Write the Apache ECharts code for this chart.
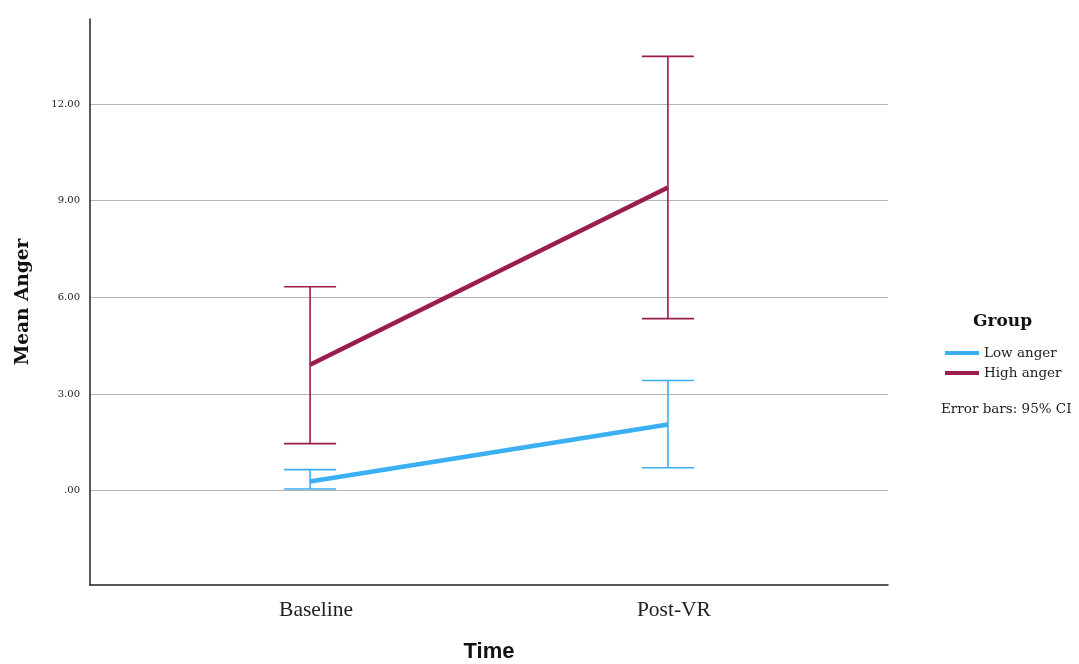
<!DOCTYPE html>
<html>
<head>
<meta charset="utf-8">
<title>Mean Anger</title>
<script src="https://cdn.jsdelivr.net/npm/echarts@6/dist/echarts.min.js"></script>
<style>
  html, body { margin: 0; padding: 0; background: #fff; }
  #chart { width: 1079px; height: 664px; }
</style>
</head>
<body>
<div id="chart"></div>
<script>
// data
var times = ['Baseline', 'Post-VR'];
var groups = ['Low anger', 'High anger'];
var lowMean = [0.28, 2.05];
var lowLower = [0.05, 0.71];
var lowUpper = [0.65, 3.42];
var highMean = [3.91, 9.41];
var highLower = [1.46, 5.34];
var highUpper = [6.33, 13.48];
var yTicks = [0, 3, 6, 9, 12];

var colors = ['#3aaff2', '#9b1d50'];
var serif = '"Liberation Serif", "DejaVu Serif", serif';
var wideSerif = '"DejaVu Serif", serif';

var myChart = echarts.init(document.getElementById('chart'));

function errorBarSeries(name, lower, upper, color) {
  var rows = lower.map(function (v, i) { return [i, v, upper[i]]; });
  return {
    name: name,
    type: 'custom',
    data: rows,
    z: 3,
    renderItem: function (params, api) {
      var lo = api.coord([api.value(0), api.value(1)]);
      var hi = api.coord([api.value(0), api.value(2)]);
      var w = 26; // cap half width
      var st = { stroke: color, lineWidth: 1.6 };
      return {
        type: 'group',
        children: [
          { type: 'line', shape: { x1: lo[0], y1: lo[1], x2: hi[0], y2: hi[1] }, style: st },
          { type: 'line', shape: { x1: lo[0] - w, y1: lo[1], x2: lo[0] + w, y2: lo[1] }, style: st },
          { type: 'line', shape: { x1: hi[0] - w, y1: hi[1], x2: hi[0] + w, y2: hi[1] }, style: st }
        ]
      };
    }
  };
}

var option = {
  animation: false,
  color: colors,
  grid: { left: 90, right: 191, top: 19, bottom: 79, containLabel: false, outerBoundsMode: 'none' },
  legend: {
    data: groups,
    orient: 'vertical',
    left: 940,
    top: 341,
    itemWidth: 34,
    itemHeight: 4,
    itemGap: 6,
    icon: 'rect',
    textStyle: { fontFamily: wideSerif, fontSize: 13.5, color: '#222' }
  },
  graphic: [
    {
      type: 'text', left: 973, top: 313,
      style: { text: 'Group', fontFamily: wideSerif, fontSize: 17, fontWeight: 'bold', fill: '#111' }
    },
    {
      type: 'text', left: 941, top: 402,
      style: { text: 'Error bars: 95% CI', fontFamily: wideSerif, fontSize: 13.5, fill: '#222' }
    }
  ],
  xAxis: {
    type: 'value',
    min: -0.615,
    max: 1.615,
    name: 'Time',
    nameLocation: 'middle',
    nameGap: 56,
    nameTextStyle: { fontFamily: '"Liberation Sans", Arial, sans-serif', fontSize: 22, fontWeight: 'bold', color: '#111' },
    axisLine: { onZero: false, lineStyle: { color: '#222', width: 1.5 } },
    axisTick: { show: false, customValues: [0, 1] },
    splitLine: { show: false },
    axisLabel: {
      customValues: [0, 1],
      margin: 14,
      padding: [0, 0, 0, 12],
      fontFamily: serif,
      fontSize: 21.5,
      color: '#222',
      formatter: function (v) { return times[Math.round(v)]; }
    }
  },
  yAxis: {
    type: 'value',
    min: -2.93,
    max: 14.64,
    name: 'Mean Anger',
    nameLocation: 'middle',
    nameGap: 57,
    nameTextStyle: { fontFamily: wideSerif, fontSize: 18.5, fontWeight: 'bold', color: '#111' },
    axisLine: { show: true, onZero: false, lineStyle: { color: '#222', width: 1.5 } },
    axisTick: { show: false, customValues: yTicks },
    splitLine: { show: true, lineStyle: { color: '#b8b8b8', width: 1.2 } },
    axisLabel: {
      customValues: yTicks,
      margin: 10,
      fontFamily: wideSerif,
      fontSize: 10,
      color: '#222',
      formatter: function (v) { return v === 0 ? '.00' : v.toFixed(2); }
    }
  },
  series: [
    {
      name: groups[0],
      type: 'line',
      data: lowMean.map(function (v, i) { return [i, v]; }),
      symbol: 'none',
      lineStyle: { width: 4.5, color: colors[0] },
      z: 4
    },
    {
      name: groups[1],
      type: 'line',
      data: highMean.map(function (v, i) { return [i, v]; }),
      symbol: 'none',
      lineStyle: { width: 4.5, color: colors[1] },
      z: 4
    },
    errorBarSeries(groups[0], lowLower, lowUpper, colors[0]),
    errorBarSeries(groups[1], highLower, highUpper, colors[1])
  ]
};

myChart.setOption(option);
</script>
</body>
</html>
